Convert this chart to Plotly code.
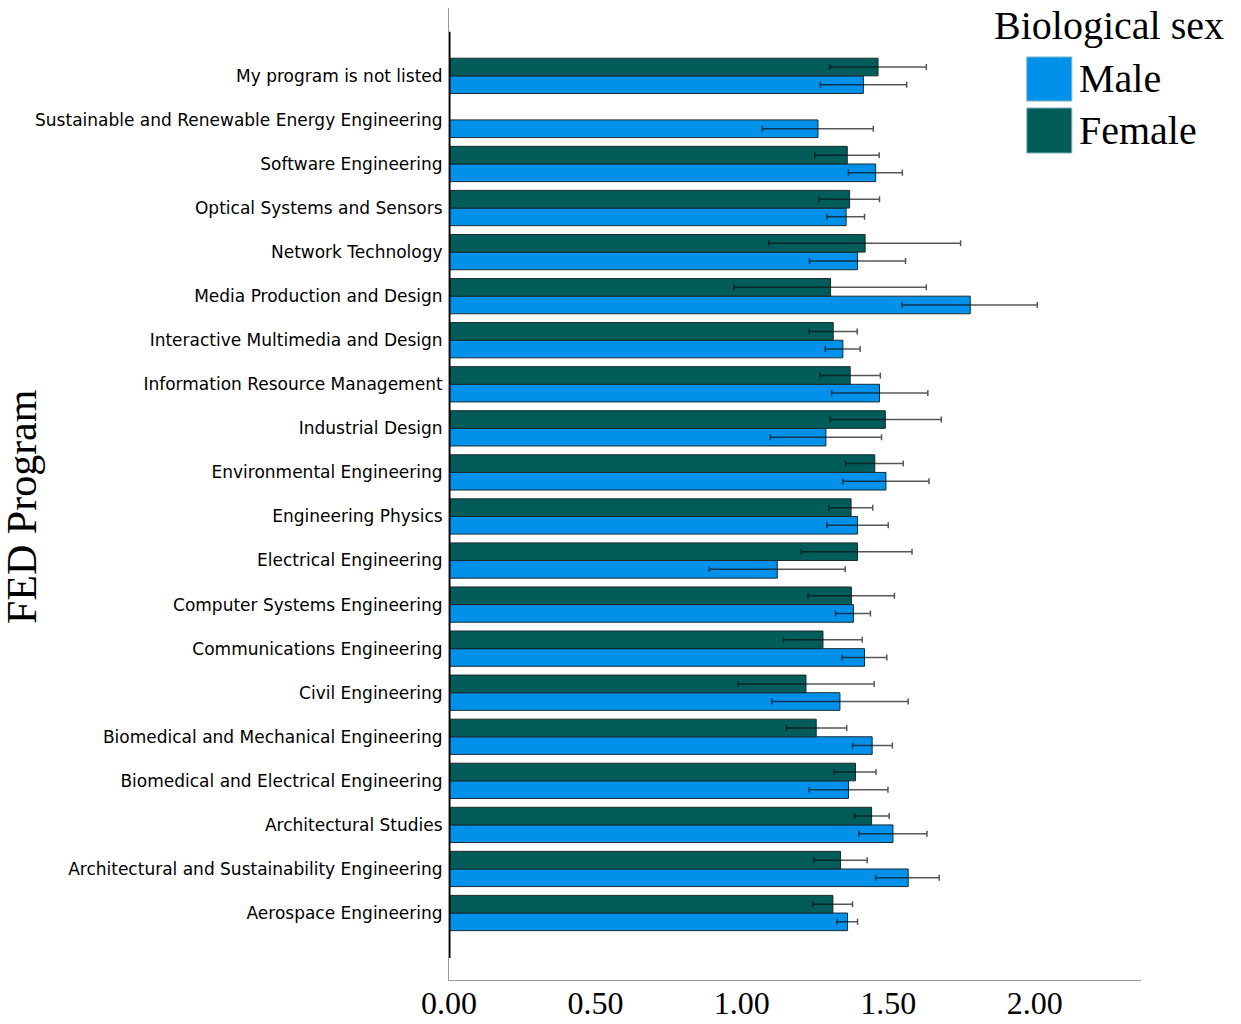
import plotly.graph_objects as go

# FED programs, listed top to bottom as displayed
programs = [
    "My program is not listed",
    "Sustainable and Renewable Energy Engineering",
    "Software Engineering",
    "Optical Systems and Sensors",
    "Network Technology",
    "Media Production and Design",
    "Interactive Multimedia and Design",
    "Information Resource Management",
    "Industrial Design",
    "Environmental Engineering",
    "Engineering Physics",
    "Electrical Engineering",
    "Computer Systems Engineering",
    "Communications Engineering",
    "Civil Engineering",
    "Biomedical and Mechanical Engineering",
    "Biomedical and Electrical Engineering",
    "Architectural Studies",
    "Architectural and Sustainability Engineering",
    "Aerospace Engineering",
]

# Mean and confidence interval bounds per program
male_mean = [1.415, 1.26, 1.457, 1.356, 1.395, 1.78, 1.345, 1.47, 1.287, 1.492,
             1.395, 1.121, 1.381, 1.419, 1.335, 1.445, 1.364, 1.516, 1.568, 1.361]
male_low = [1.268, 1.07, 1.364, 1.29, 1.231, 1.547, 1.285, 1.307, 1.097, 1.345,
            1.29, 0.889, 1.32, 1.342, 1.102, 1.378, 1.23, 1.40, 1.457, 1.325]
male_high = [1.563, 1.449, 1.548, 1.419, 1.559, 2.009, 1.404, 1.635, 1.477, 1.639,
             1.50, 1.353, 1.439, 1.495, 1.568, 1.514, 1.499, 1.632, 1.674, 1.395]

female_mean = [1.465, None, 1.36, 1.368, 1.421, 1.303, 1.312, 1.37, 1.49, 1.454,
               1.373, 1.395, 1.374, 1.277, 1.219, 1.254, 1.388, 1.443, 1.337, 1.311]
female_low = [1.30, None, 1.249, 1.264, 1.092, 0.974, 1.23, 1.267, 1.302, 1.354,
              1.298, 1.203, 1.226, 1.142, 0.986, 1.152, 1.315, 1.384, 1.245, 1.242]
female_high = [1.63, None, 1.469, 1.470, 1.747, 1.63, 1.394, 1.473, 1.681, 1.551,
               1.447, 1.581, 1.521, 1.411, 1.452, 1.358, 1.458, 1.503, 1.428, 1.378]

x_ticks = [0.0, 0.5, 1.0, 1.5, 2.0]

MALE_COLOR = "#0091EA"
FEMALE_COLOR = "#015C5A"
SERIF = "Liberation Serif, Times New Roman, serif"
SANS = "DejaVu Sans, Verdana, sans-serif"


def plus(mean, high):
    return [None if m is None else h - m for m, h in zip(mean, high)]


def minus(mean, low):
    return [None if m is None else m - l for m, l in zip(mean, low)]


err_style = dict(type="data", symmetric=False, color="rgba(15,15,15,0.7)",
                 thickness=1.5, width=3)

fig = go.Figure()
fig.add_trace(go.Bar(
    name="Male", y=programs, x=male_mean, orientation="h",
    marker=dict(color=MALE_COLOR, line=dict(color="#1a2a33", width=1)),
    error_x=dict(array=plus(male_mean, male_high),
                 arrayminus=minus(male_mean, male_low), **err_style),
))
fig.add_trace(go.Bar(
    name="Female", y=programs, x=female_mean, orientation="h",
    marker=dict(color=FEMALE_COLOR, line=dict(color="#1a2a2a", width=1)),
    error_x=dict(array=plus(female_mean, female_high),
                 arrayminus=minus(female_mean, female_low), **err_style),
))

# Baseline at zero
fig.add_shape(type="line", xref="x", yref="y", x0=0, x1=0, y0=-1.02, y1=20.0,
              line=dict(color="black", width=3))

# Legend drawn as swatches and labels
fig.add_annotation(xref="paper", yref="paper", x=0.7847, y=0.9825,
                   xanchor="left", yanchor="middle", showarrow=False,
                   text="Biological sex", font=dict(family=SERIF, size=40, color="black"))
for label, color, y0, y1, ty in [("Male", MALE_COLOR, 0.9043, 0.9496, 0.927),
                                 ("Female", FEMALE_COLOR, 0.8508, 0.8971, 0.874)]:
    fig.add_shape(type="rect", xref="paper", yref="paper", x0=0.835, x1=0.900,
                  y0=y0, y1=y1, fillcolor=color, line=dict(color="#7fb3c0", width=1))
    fig.add_annotation(xref="paper", yref="paper", x=0.9075, y=ty,
                       xanchor="left", yanchor="middle", showarrow=False,
                       text=label, font=dict(family=SERIF, size=40, color="black"))

# Axis title
fig.add_annotation(xref="paper", yref="paper", x=-0.617, y=0.4866,
                   xanchor="center", yanchor="middle", showarrow=False, textangle=-90,
                   text="FED Program", font=dict(family=SERIF, size=42, color="black"))

fig.update_layout(
    width=1241, height=1024,
    margin=dict(l=449, r=100, t=8, b=44, pad=0),
    paper_bgcolor="white", plot_bgcolor="white",
    barmode="group", bargap=0.2, bargroupgap=0.0,
    showlegend=False,
    xaxis=dict(range=[0, 2.363], tickvals=x_ticks, tickformat=".2f",
               automargin=False, ticklabelstandoff=-5,
               showgrid=False, zeroline=False, showline=True,
               linecolor="#9a9a9a", linewidth=1, ticks="",
               tickfont=dict(family=SERIF, size=32, color="black")),
    yaxis=dict(categoryorder="array", categoryarray=programs[::-1],
               range=[-1.52, 20.54], automargin=False,
               showgrid=False, zeroline=False,
               showline=True, linecolor="#9a9a9a", linewidth=1, ticks="",
               ticklabelstandoff=2,
               tickfont=dict(family=SANS, size=17, color="black")),
)

fig.write_html("out.html")
